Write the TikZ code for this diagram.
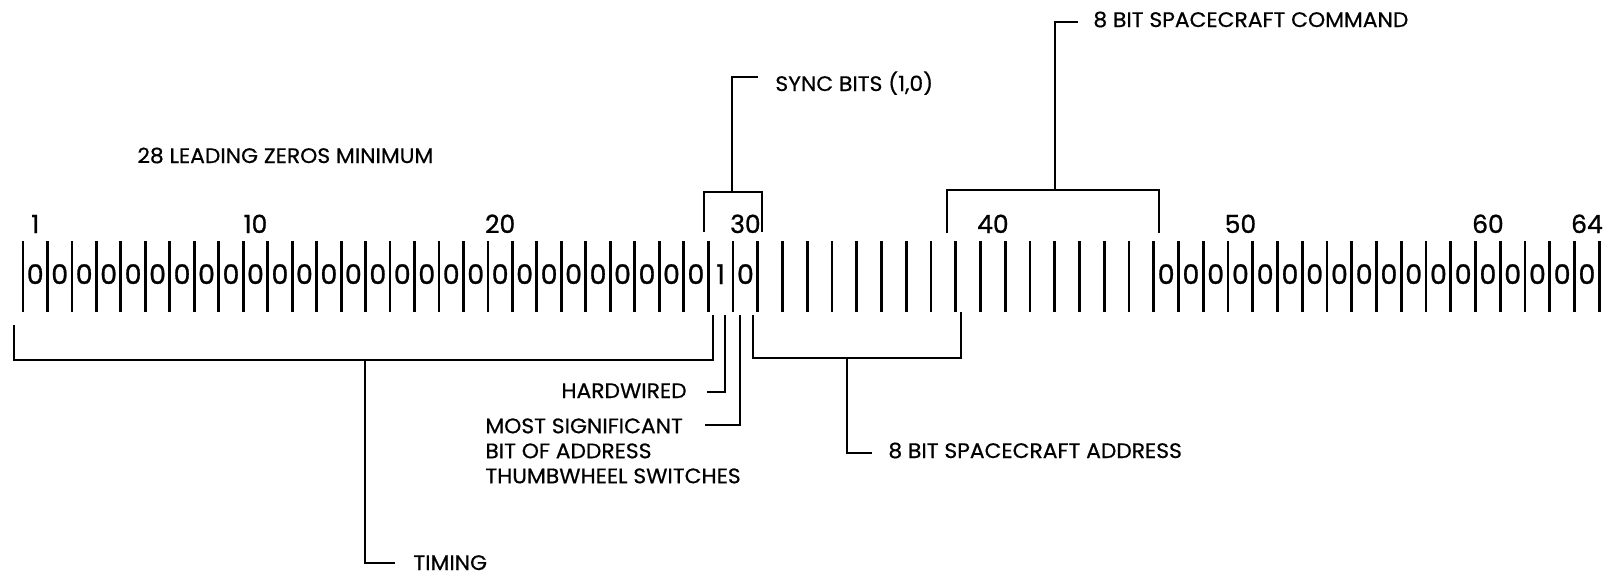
\documentclass[tikz,border=0pt]{standalone}
\usepackage{fontspec}
\setmainfont{Poppins}
\newfontfamily\labfont{Poppins}[FakeStretch=1.04,FakeBold=0.6]
\newfontfamily\bitfont{Poppins}[FakeBold=1.0]
\usetikzlibrary{calc}
\begin{document}
\begin{tikzpicture}[x=0.5pt,y=-0.5pt,
  tick/.style={line width=1.4pt},
  brk/.style={line width=1.2pt},
  lab/.style={font=\labfont\fontsize{10.5}{12.5}\selectfont, inner sep=0pt},
  num/.style={font=\bitfont\fontsize{12.5}{14}\selectfont, inner sep=0pt, anchor=base},
  bit/.style={font=\bitfont\fontsize{13.5}{15}\selectfont, inner sep=0pt, anchor=base}]
\useasboundingbox (0,0) rectangle (1616,586);
% ticks
\foreach \i in {0,...,64}{
  \pgfmathsetmacro\xx{\i<28.5 ? 23+\i*24.47 : 708.3+(\i-28)*24.75}
  \coordinate (t\i) at (\xx,241);
  \coordinate (b\i) at (\xx,312);
  \draw[tick] (t\i) -- (b\i);
}
% cell centres (bit baseline)
\foreach \i in {1,...,64}{
  \pgfmathsetmacro\xc{\i<28.5 ? 23+(\i-0.5)*24.47 : 708.3+(\i-28.5)*24.75}
  \coordinate (c\i) at (\xc,284);
}
\coordinate (nb) at (0,233);
% bits
\foreach \i in {1,...,28}{\node[bit] (bit\i) at (c\i) {0};}
\node[bit] (bit29) at (c29) {1};
\node[bit] (bit30) at (c30) {0};
\foreach \i in {47,...,64}{\node[bit] (bit\i) at (c\i) {0};}
% numbers
\foreach \n in {1,10,20,30,40,50,60,64}{\node[num] (n\n) at (c\n |- nb) {\n};}
% labels
\node[lab, anchor=base west] (lead) at (137,163) {28 LEADING ZEROS MINIMUM};
\node[lab, anchor=base west] (sync) at (775,91) {SYNC BITS (1,0)};
\node[lab, anchor=base west] (cmd) at (1093,27) {8 BIT SPACECRAFT COMMAND};
\node[lab, anchor=base east] (hw) at (687,398) {HARDWIRED};
\node[lab, anchor=north west, align=left] (msb) at (485,418) {MOST SIGNIFICANT\\BIT OF ADDRESS\\THUMBWHEEL SWITCHES};
\node[lab, anchor=base west] (addr) at (888,458) {8 BIT SPACECRAFT ADDRESS};
\node[lab, anchor=base west] (tim) at (413,570) {TIMING};
% sync bracket
\coordinate (sL) at (704,232); \coordinate (sR) at (762,232);
\coordinate (sTop) at (732,192); \coordinate (sEnd) at (758,77);
\draw[brk] (sL) |- (sR |- sTop) -- (sR);
\draw[brk] (sTop) |- (sEnd);
% command bracket
\coordinate (cL) at (947,233); \coordinate (cR) at (1159,233);
\coordinate (cTop) at (1055,190); \coordinate (cEnd) at (1078,22);
\draw[brk] (cL) |- (cR |- cTop) -- (cR);
\draw[brk] (cTop) |- (cEnd);
% timing bracket
\coordinate (tL) at (14,325); \coordinate (tR) at (713,315);
\coordinate (tMid) at (365,360); \coordinate (tEnd) at (395,563);
\draw[brk] (tL) |- (tR |- tMid) -- (tR);
\draw[brk] (tMid) |- (tEnd);
% hardwired leader
\coordinate (hTop) at (725,315); \coordinate (hEnd) at (707,392);
\draw[brk] (hTop) |- (hEnd);
% msb leader
\coordinate (mTop) at (740,315); \coordinate (mEnd) at (705,425);
\draw[brk] (mTop) |- (mEnd);
% address bracket
\coordinate (aL) at (753,315); \coordinate (aR) at (961,312);
\coordinate (aMid) at (847,358); \coordinate (aEnd) at (872,453);
\draw[brk] (aL) |- (aR |- aMid) -- (aR);
\draw[brk] (aMid) |- (aEnd);
\end{tikzpicture}
\end{document}
